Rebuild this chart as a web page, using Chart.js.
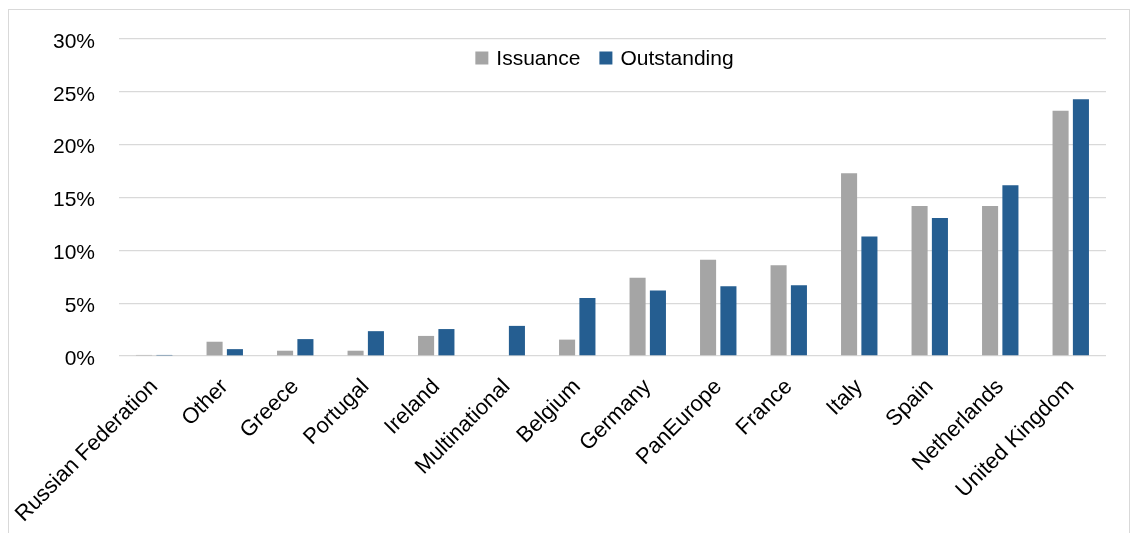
<!DOCTYPE html>
<html>
<head>
<meta charset="utf-8">
<script src="https://cdn.jsdelivr.net/npm/chart.js@4/dist/chart.umd.min.js"></script>
<style>
  html, body { margin: 0; padding: 0; background: #fff; }
  #frame {
    position: absolute; left: 8px; top: 9px; width: 1122px; height: 540px;
    border: 1px solid #d9d9d9; box-sizing: border-box;
  }
  #wrap { position: absolute; left: 0; top: 0; width: 1132px; height: 533px; }
</style>
</head>
<body>
<div id="frame"></div>
<div id="wrap"><canvas id="chart" width="1132" height="533"></canvas></div>
<script>
// Share of issuance vs outstanding, by country (values in %)
const countries = [
  "Russian Federation", "Other", "Greece", "Portugal", "Ireland", "Multinational",
  "Belgium", "Germany", "PanEurope", "France", "Italy", "Spain", "Netherlands",
  "United Kingdom",
];
const issuance = [0.1, 1.35, 0.5, 0.5, 1.9, 0, 1.55, 7.4, 9.1, 8.6, 17.3, 14.2, 14.2, 23.2];
const outstanding = [0.1, 0.65, 1.6, 2.35, 2.55, 2.85, 5.5, 6.2, 6.6, 6.7, 11.3, 13.05, 16.15, 24.3];
const yTicks = [0, 5, 10, 15, 20, 25, 30];

const GREY = "#a5a5a5";
const BLUE = "#255e91";
const FONT = "'Liberation Sans', Arial, sans-serif";

// Legend sits inside the plot, between the 30% and 25% lines, so draw it ourselves.
const insideLegend = {
  id: "insideLegend",
  afterDraw(chart) {
    const { ctx, chartArea } = chart;
    const box = 13, gap = 8, spacing = 19;
    ctx.save();
    ctx.font = "21px " + FONT;
    ctx.textBaseline = "middle";
    const items = chart.data.datasets.map((d) => ({
      label: d.label, color: d.backgroundColor, w: box + gap + ctx.measureText(d.label).width,
    }));
    const total = items.reduce((s, it) => s + it.w, 0) + spacing * (items.length - 1);
    let x = (chartArea.left + chartArea.right) / 2 - total / 2 - 8;
    const y = 58;
    for (const it of items) {
      ctx.fillStyle = it.color;
      ctx.fillRect(x, y - box / 2, box, box);
      ctx.fillStyle = "#000";
      ctx.fillText(it.label, x + box + gap, y + 1);
      x += it.w + spacing;
    }
    ctx.restore();
  },
};

new Chart(document.getElementById("chart"), {
  type: "bar",
  data: {
    labels: countries,
    datasets: [
      { label: "Issuance", data: issuance, backgroundColor: GREY,
        barPercentage: 0.79, categoryPercentage: 0.577 },
      { label: "Outstanding", data: outstanding, backgroundColor: BLUE,
        barPercentage: 0.79, categoryPercentage: 0.577 },
    ],
  },
  options: {
    responsive: false,
    animation: false,
    layout: { padding: { top: 39, right: 26, left: 0, bottom: 0 } },
    plugins: { legend: { display: false }, tooltip: { enabled: false } },
    scales: {
      x: {
        grid: { display: false },
        border: { display: false },
        ticks: {
          color: "#000", font: { family: FONT, size: 22 },
          minRotation: 45, maxRotation: 45, autoSkip: false, padding: 10,
        },
        afterFit(scale) { scale.height = 177; },
      },
      y: {
        min: 0, max: 30,
        afterBuildTicks(scale) { scale.ticks = yTicks.map((v) => ({ value: v })); },
        grid: { color: "#d9d9d9", lineWidth: 1.3, drawTicks: false },
        border: { display: false },
        ticks: {
          color: "#000", font: { family: FONT, size: 21 }, padding: 24, labelOffset: 3,
          callback: (v) => v + "%",
        },
        afterFit(scale) { scale.width = 119; },
      },
    },
  },
  plugins: [insideLegend],
});
</script>
</body>
</html>
